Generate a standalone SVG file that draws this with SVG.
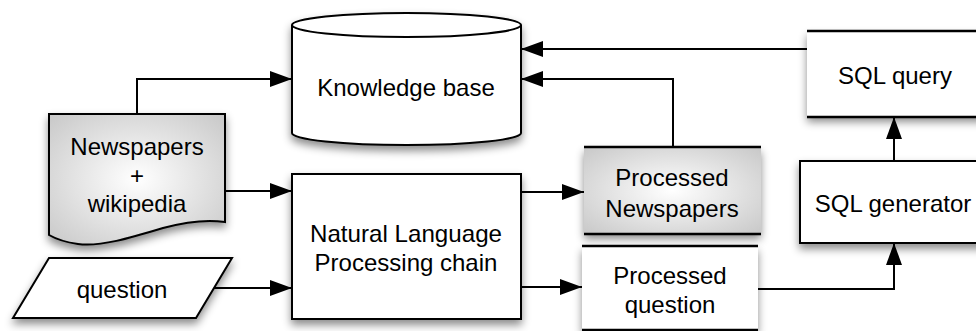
<svg xmlns="http://www.w3.org/2000/svg" width="976" height="331" viewBox="0 0 976 331">
<style>
text{font-family:"Liberation Sans",Arial,sans-serif;font-size:24px;fill:#000;text-anchor:middle}
.shape{fill:#fff;stroke:#000;stroke-width:2}
.grad{fill:url(#rg);stroke:#000;stroke-width:2}
.edge{stroke:#000;stroke-width:2.5;fill:none}
.line{stroke:#000;stroke-width:2;fill:none}
.conn{fill:none;stroke:#000;stroke-width:2;marker-end:url(#ah)}
</style>
<defs>
<marker id="ah" markerUnits="userSpaceOnUse" markerWidth="24" markerHeight="18" refX="22" refY="8" orient="auto">
<path d="M0,0 L22,8 L0,16 Z" fill="#000"/>
</marker>
<radialGradient id="rg" cx="0.5" cy="0.5" r="0.7">
<stop offset="0" stop-color="#ffffff"/>
<stop offset="1" stop-color="#c8c8c8"/>
</radialGradient>
<filter id="sh" x="-10%" y="-10%" width="125%" height="135%">
<feDropShadow dx="0" dy="5" stdDeviation="4" flood-color="#000" flood-opacity="0.45"/>
</filter>
</defs>
<g id="connectors">
<path class="conn" d="M137,114 V79 H292"/>
<path class="conn" d="M225,191 H292"/>
<path class="conn" d="M211,288 H292"/>
<path class="conn" d="M521,192 H584"/>
<path class="conn" d="M517,287 H582"/>
<path class="conn" d="M807,49 H521"/>
<path class="conn" d="M673,147 V79 H521"/>
<path class="conn" d="M894,161 V117"/>
<path class="conn" d="M758,289 H894 V243"/>
</g>
<g id="knowledge-base">
<path class="shape" filter="url(#sh)" d="M292,25 V133 A114.5,12 0 0 0 521,133 V25 A114.5,12 0 0 0 292,25 Z"/>
<path class="line" d="M292,25 A114.5,12 0 0 0 521,25"/>
<text x="406" y="96">Knowledge base</text>
</g>
<g id="newspapers-wikipedia">
<path class="grad" filter="url(#sh)" d="M49,114 H225 V222 C205,219 185,222 163,228 C130,238 100,247 78,244 C64,242 56,239 49,235 Z"/>
<text x="137" y="155">Newspapers</text>
<text x="137" y="184">+</text>
<text x="137" y="212">wikipedia</text>
</g>
<g id="question">
<path class="shape" filter="url(#sh)" d="M49,258 H232 L196,318 H13 Z"/>
<text x="122" y="298">question</text>
</g>
<g id="nlp-chain">
<rect class="shape" filter="url(#sh)" x="292" y="174" width="229" height="145"/>
<text x="406" y="242" textLength="192" lengthAdjust="spacingAndGlyphs">Natural Language</text>
<text x="406" y="271">Processing chain</text>
</g>
<g id="processed-newspapers">
<rect x="584" y="147" width="177" height="87" fill="url(#rg)" stroke="none" filter="url(#sh)"/>
<path class="edge" d="M584,147 H761 M584,234 H761"/>
<text x="672" y="186">Processed</text>
<text x="672" y="217">Newspapers</text>
</g>
<g id="processed-question">
<rect x="582" y="246" width="176" height="84" fill="#fff" stroke="none" filter="url(#sh)"/>
<path class="edge" d="M582,246 H758 M582,330 H758"/>
<text x="670" y="284">Processed</text>
<text x="670" y="313">question</text>
</g>
<g id="sql-query">
<rect x="807" y="31" width="180" height="86" fill="#fff" stroke="none" filter="url(#sh)"/>
<path class="edge" d="M807,31 H980 M807,117 H980"/>
<text x="895" y="84">SQL query</text>
</g>
<g id="sql-generator">
<rect class="shape" filter="url(#sh)" x="800" y="161" width="185" height="82"/>
<text x="893" y="212">SQL generator</text>
</g>
</svg>
